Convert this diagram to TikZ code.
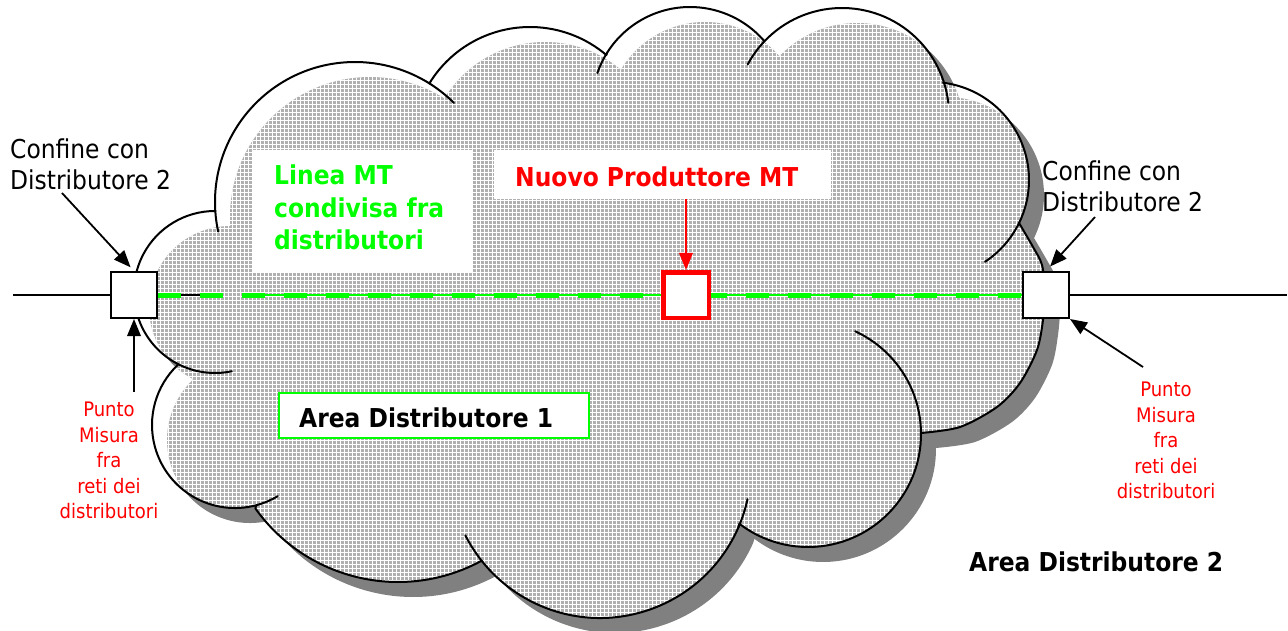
\documentclass[tikz,border=0pt]{standalone}
\usepackage{fontspec}
\newfontfamily\tah{DejaVu Sans Condensed}
\usetikzlibrary{arrows.meta}
\definecolor{mtgreen}{RGB}{0,255,0}
\definecolor{mtred}{RGB}{255,0,0}
\definecolor{shadowgray}{RGB}{128,128,128}
\definecolor{hatchgray}{RGB}{176,176,176}

% outer border of the cloud, lobe by lobe (junction to junction); y axis points down
\def\cloudshape{
 ([shift={(176.3:140)}]355,202) arc[start angle=176.3, end angle=302.5, radius=140]
 -- ([shift={(211.4:118)}]530,145) arc[start angle=211.4, end angle=310.3, radius=118]
 -- ([shift={(212.4:98)}]690,105) arc[start angle=212.4, end angle=318.3, radius=98]
 -- ([shift={(223.5:107)}]842,115) arc[start angle=223.5, end angle=342.9, radius=107]
 -- ([shift={(277.1:98)}]931,180) arc[start angle=277.1, end angle=385.8, radius=98]
 -- plot[smooth] coordinates {(1019,223) (1033,247) (1042,265) (1045,292) (1043,320) (1037,350) (1020,383) (997,407) (960,427) (921,433)}
 -- ([shift={(359.5:113)}]808,434) arc[start angle=359.5, end angle=487.4, radius=113]
 -- ([shift={(23.6:151)}]600,467) arc[start angle=23.6, end angle=141.2, radius=151]
 -- ([shift={(61.5:175)}]398,407) arc[start angle=61.5, end angle=144.6, radius=175]
 -- ([shift={(75:83)}]235,425) arc[start angle=75, end angle=226.4, radius=83]
 -- ([shift={(117.8:81)}]215,292) arc[start angle=117.8, end angle=270, radius=81]
 -- cycle}

\begin{document}
\begin{tikzpicture}[x=1pt,y=-1pt,
  outline/.style={line width=2pt, black, line join=round, line cap=round},
  meterbox/.style={draw=black, fill=white, line width=2pt, minimum size=46pt, inner sep=0pt},
  genbox/.style={draw=mtred, fill=white, line width=4.5pt, minimum size=45.5pt, inner sep=0pt},
  whitebox/.style={fill=white, inner sep=0pt},
  feeder/.style={line width=1.6pt, black},
  pointer/.style={line width=1.8pt, -{Triangle[length=17pt,width=13.5pt]}},
  lbl/.style={font=\tah\fontsize{26}{31}\selectfont, inner sep=0pt, align=left},
  redlbl/.style={font=\tah\fontsize{20}{25.5}\selectfont, text=mtred, inner sep=0pt, align=center},
  boldlbl/.style={font=\tah\bfseries\fontsize{26}{32.5}\selectfont, inner sep=0pt, align=left}]
\useasboundingbox (0,0) rectangle (1288,631);

% cloud: drop shadow, white body, hatched fill offset inside the border
\fill[shadowgray, shift={(15,15)}] \cloudshape;
\fill[white] \cloudshape;
\begin{scope}
  \clip \cloudshape;
  \clip[shift={(15,15)}] \cloudshape;
  \fill[hatchgray] (100,0) rectangle (1100,640);
  \foreach \i in {25,...,275} \draw[white, line width=1pt] ({\i*4+0.5},0) -- ({\i*4+0.5},640);
  \foreach \j in {0,...,160} \draw[white, line width=1pt] (100,{\j*4+0.5}) -- (1100,{\j*4+0.5});
\end{scope}
\draw[outline] \cloudshape;
% inner ends of the lobes
\draw[outline] ([shift={(78:81)}]215,292) arc[start angle=78, end angle=117.8, radius=81];
\draw[outline] ([shift={(167.8:140)}]355,202) arc[start angle=167.8, end angle=176.3, radius=140];
\draw[outline] ([shift={(302.5:140)}]355,202) arc[start angle=302.5, end angle=315, radius=140];
\draw[outline] ([shift={(199:98)}]690,105) arc[start angle=199, end angle=212.4, radius=98];
\draw[outline] ([shift={(208.2:107)}]842,115) arc[start angle=208.2, end angle=223.5, radius=107];
\draw[outline] ([shift={(342.9:107)}]842,115) arc[start angle=342.9, end angle=353.4, radius=107];
\draw[outline] ([shift={(385.8:98)}]931,180) arc[start angle=385.8, end angle=416.6, radius=98];
\draw[outline] ([shift={(294.7:113)}]808,434) arc[start angle=294.7, end angle=359.5, radius=113];
\draw[outline] ([shift={(12.3:151)}]600,467) arc[start angle=12.3, end angle=23.6, radius=151];
\draw[outline] ([shift={(141.2:151)}]600,467) arc[start angle=141.2, end angle=153.1, radius=151];
\draw[outline] ([shift={(59:83)}]235,425) arc[start angle=59, end angle=75, radius=83];

% white label panels
\node[whitebox, minimum width=219pt, minimum height=122pt] (lineabox) at (362.5,211) {};
\node[whitebox, minimum width=337pt, minimum height=49pt] (nuovo) at (662.5,174.5) {};
\node[whitebox, draw=mtgreen, line width=2pt, minimum width=310pt, minimum height=45pt] (area1box) at (434,415.5) {};

% metering points and feeder
\node[meterbox] (boxL) at (134,295) {};
\node[meterbox] (boxR) at (1046,295) {};
\coordinate (feedL) at (13,295);
\coordinate (feedR) at (1287,295);
\coordinate (k1) at (200,295);
\coordinate (k2) at (242,295);
\draw[feeder] (feedL) -- (boxL.west);
\draw[feeder] (boxR.east) -- (feedR);
\draw[line width=2pt, black] (boxL.east) -- (k1);
\draw[line width=2pt, mtgreen] (k2) -- (boxR.west);
\draw[line width=5pt, mtgreen, dash pattern=on 23pt off 19pt] (boxL.east) -- (boxR.west);
\node[genbox] (gen) at (686,295) {};

% texts
\node[lbl, anchor=west] (confL) at (10,164) {Confine con\\Distributore 2};
\node[lbl, anchor=west] (confR) at (1042,186) {Confine con\\Distributore 2};
\node[redlbl] (puntoL) at (109,460.5) {Punto\\Misura\\fra\\reti dei\\distributori};
\node[redlbl] (puntoR) at (1166,440.5) {Punto\\Misura\\fra\\reti dei\\distributori};
\node[boldlbl, text=mtgreen, anchor=west] (linea) at (274,207.5) {Linea MT\\condivisa fra\\distributori};
\node[boldlbl, text=mtred, anchor=west] (nuovotxt) at (515,177) {Nuovo Produttore MT};
\node[boldlbl, anchor=base west] (area1) at (299,427) {Area Distributore 1};
\node[boldlbl, anchor=base west] (area2) at (969,571) {Area Distributore 2};

% pointers
\coordinate (tL) at (62,193);
\coordinate (tR) at (1095,217);
\coordinate (pL) at (134,392);
\coordinate (pR) at (1143,367);
\draw[pointer, shorten >=5pt] (tL) -- (boxL.north);
\draw[pointer, shorten >=6pt] (tR) -- (boxR.north);
\draw[pointer] (pL) -- (boxL.south);
\draw[pointer] (pR) -- (boxR.south east);
\draw[pointer, mtred] (gen.north |- nuovo.south) -- (gen.north);
\end{tikzpicture}
\end{document}
